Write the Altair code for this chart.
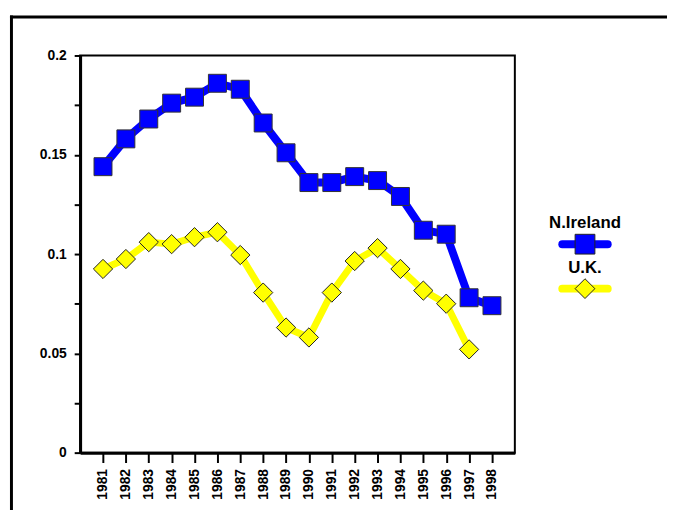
import altair as alt
import pandas as pd

years = list(range(1981, 1999))
series_names = ["N.Ireland", "U.K."]
ni_values = [0.144, 0.158, 0.168, 0.176, 0.179, 0.186, 0.183, 0.166, 0.151,
             0.136, 0.136, 0.139, 0.137, 0.129, 0.112, 0.110, 0.078, 0.074]
uk_values = [0.0925, 0.0975, 0.106, 0.105, 0.1085, 0.111, 0.0995, 0.0806, 0.063,
             0.058, 0.0806, 0.0965, 0.103, 0.0925, 0.0816, 0.075, 0.052]
y_ticks = [0, 0.025, 0.05, 0.075, 0.1, 0.125, 0.15, 0.175, 0.2]
colors = ["#0000FF", "#FFFF00"]
shapes = ["square", "diamond"]

rows = []
for y, v in zip(years, ni_values):
    rows.append({"year": str(y), "value": v, "series": series_names[0]})
for y, v in zip(years, uk_values):
    rows.append({"year": str(y), "value": v, "series": series_names[1]})
df = pd.DataFrame(rows)

FONT = "Liberation Sans"
W, H = 440, 402

xenc = alt.X("year:O", scale=alt.Scale(type="point", padding=1, domain=[str(y) for y in years]),
             axis=alt.Axis(title=None, labelAngle=-90, labelFont=FONT, labelFontWeight="bold",
                           labelFontSize=14, labelColor="black", tickSize=10, tickWidth=2,
                           tickColor="black", domainColor="black", domainWidth=3,
                           labelPadding=6, grid=False))
yenc = alt.Y("value:Q", scale=alt.Scale(domain=[0, 0.2], nice=False, zero=True),
             axis=alt.Axis(title=None, values=y_ticks, grid=False,
                           labelExpr="round(datum.value*1000) % 50 == 0 ? format(datum.value, '~g') : ''",
                           labelFont=FONT, labelFontWeight="bold", labelFontSize=14,
                           labelColor="black", tickSize=6, tickWidth=2, tickColor="black",
                           domainColor="black", domainWidth=3, labelPadding=8))
color_scale = alt.Scale(domain=series_names, range=colors)
shape_scale = alt.Scale(domain=series_names, range=shapes)

base = alt.Chart(df)

uk_line = base.transform_filter(alt.datum.series == series_names[1]).mark_line(
    strokeWidth=7, strokeJoin="round").encode(
    x=xenc, y=yenc, color=alt.Color("series:N", scale=color_scale, legend=None))
ni_line = base.transform_filter(alt.datum.series == series_names[0]).mark_line(
    strokeWidth=8, strokeJoin="round").encode(
    x=xenc, y=yenc, color=alt.Color("series:N", scale=color_scale, legend=None))

uk_pts = base.transform_filter(alt.datum.series == series_names[1]).mark_point(
    filled=True, size=380, stroke="#222222", strokeWidth=1, opacity=1).encode(
    x=xenc, y=yenc,
    fill=alt.Fill("series:N", scale=color_scale, legend=None),
    shape=alt.Shape("series:N", scale=shape_scale, legend=None))
ni_pts = base.transform_filter(alt.datum.series == series_names[0]).mark_point(
    filled=True, size=330, stroke="#333333", strokeWidth=1, opacity=1).encode(
    x=xenc, y=yenc,
    fill=alt.Fill("series:N", scale=color_scale, legend=None),
    shape=alt.Shape("series:N", scale=shape_scale, legend=None))

# manual legend (positions in pixels relative to plot area)
one = pd.DataFrame({"k": [0]})
lx = 511
leg = []
for i, (name, col, shp, ty) in enumerate(zip(series_names, colors, shapes, [170, 215])):
    leg.append(alt.Chart(one).mark_text(font=FONT, fontWeight="bold", fontSize=17,
                                        align="center", baseline="middle", color="black").encode(
        x=alt.value(lx), y=alt.value(ty), text=alt.value(name)))
    leg.append(alt.Chart(one).mark_rule(strokeWidth=8, strokeCap="round", color=col).encode(
        x=alt.value(lx - 23), x2=alt.value(lx + 23), y=alt.value(ty + 21)))
    leg.append(alt.Chart(one).mark_point(filled=True, size=400, shape=shp, fill=col,
                                         stroke="#222222", strokeWidth=1, opacity=1).encode(
        x=alt.value(lx), y=alt.value(ty + 21)))

# outer frame
frame_top = alt.Chart(one).mark_rule(strokeWidth=3, color="black").encode(
    x=alt.value(-71), x2=alt.value(700), y=alt.value(-39))
frame_left = alt.Chart(one).mark_rule(strokeWidth=3, color="black").encode(
    x=alt.value(-69.5), y=alt.value(-40.5), y2=alt.value(600))

chart = alt.layer(frame_top, frame_left, uk_line, ni_line, uk_pts, ni_pts, *leg).properties(
    width=W, height=H,
    autosize=alt.AutoSizeParams(type="none"),
    padding={"left": 73, "top": 45, "right": 154, "bottom": 55},
    background="white",
).configure_view(stroke="black", strokeWidth=2)

chart.save("out.html", embed_options={"renderer": "svg", "actions": False})
